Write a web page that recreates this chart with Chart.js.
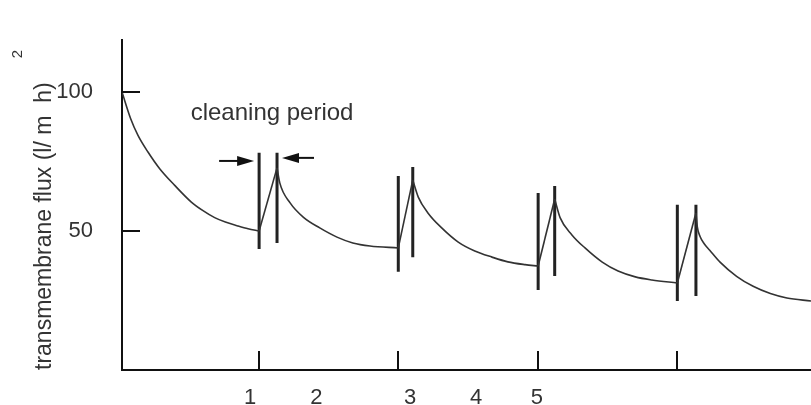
<!DOCTYPE html>
<html>
<head>
<meta charset="utf-8">
<script src="https://cdn.jsdelivr.net/npm/chart.js@4/dist/chart.umd.min.js"></script>
<style>
  html, body { margin: 0; padding: 0; background: #fff; }
  #wrap { width: 811px; height: 405px; }
</style>
</head>
<body>
<div id="wrap"><canvas id="c" width="811" height="405"></canvas></div>
<script>
// ---- data (time in arbitrary units 0..100, flux in l/m2h) ----
const decay1Time = [0, 1.26, 2.32, 3.77, 5.47, 7.65, 10.06, 11.7, 13.45, 15.0, 16.7, 18.3, 19.9];
const decay1Flux = [100, 90.4, 84.4, 78.4, 72.4, 66.4, 60.4, 57.4, 54.8, 53.2, 51.9, 50.8, 50.0];
const decay2Time = [22.5, 22.9, 24.4, 26.3, 28.7, 31.2, 33.5, 36.0, 40.1];
const decay2Flux = [72.7, 67.3, 60.1, 55.0, 51.1, 47.8, 45.7, 44.6, 43.9];
const decay3Time = [42.2, 43.0, 44.4, 46.4, 48.8, 51.2, 53.7, 56.0, 58.5, 60.4];
const decay3Flux = [68.3, 62.2, 56.5, 51.1, 46.0, 42.8, 40.6, 38.9, 37.9, 37.4];
const decay4Time = [62.8, 63.6, 65.3, 67.2, 69.7, 72.0, 74.5, 76.9, 80.6];
const decay4Flux = [61.5, 54.7, 48.6, 43.9, 38.8, 35.6, 33.5, 32.4, 31.3];
const decay5Time = [83.3, 83.5, 83.9, 84.5, 85.3, 86.8, 89.2, 91.6, 94.1, 96.5, 100];
const decay5Flux = [56.5, 51.5, 48.0, 45.4, 43.1, 38.8, 33.7, 30.1, 27.5, 25.9, 24.8];

// cleaning periods: start/end times, vertical marker extents
const cleanStart = [19.9, 40.1, 60.4, 80.6];
const cleanEnd   = [22.5, 42.2, 62.8, 83.3];
const startTop    = [78.1, 69.8, 63.7, 59.4];
const startBottom = [43.5, 35.3, 28.8, 24.8];
const endTop      = [78.1, 73.0, 66.2, 59.4];
const endBottom   = [45.7, 40.6, 33.8, 26.6];

// axis labels
const yTicks = [50, 100];
const xLabelPos = [18.6, 28.2, 41.8, 51.4, 60.2];
const xLabels = ['1', '2', '3', '4', '5'];

// ---- build datasets ----
const CURVE = '#333';
const MARK = '#222';
function pts(xs, ys) { return xs.map((x, i) => ({ x: x, y: ys[i] })); }
const decays = [
  [decay1Time, decay1Flux], [decay2Time, decay2Flux], [decay3Time, decay3Flux],
  [decay4Time, decay4Flux], [decay5Time, decay5Flux]
];
const datasets = [];
decays.forEach(d => datasets.push({
  data: pts(d[0], d[1]), borderColor: CURVE, borderWidth: 1.6,
  pointRadius: 0, fill: false, cubicInterpolationMode: 'monotone'
}));
// rises during cleaning: end of one decay to start of next
for (let i = 0; i < 4; i++) {
  const a = decays[i], b = decays[i + 1];
  datasets.push({
    data: [{ x: a[0][a[0].length - 1], y: a[1][a[1].length - 1] }, { x: b[0][0], y: b[1][0] }],
    borderColor: CURVE, borderWidth: 1.6, pointRadius: 0, fill: false, tension: 0
  });
}
// vertical cleaning markers
for (let i = 0; i < 4; i++) {
  datasets.push({ data: [{ x: cleanStart[i], y: startTop[i] }, { x: cleanStart[i], y: startBottom[i] }],
    borderColor: MARK, borderWidth: 3, pointRadius: 0, fill: false });
  datasets.push({ data: [{ x: cleanEnd[i], y: endTop[i] }, { x: cleanEnd[i], y: endBottom[i] }],
    borderColor: MARK, borderWidth: 3, pointRadius: 0, fill: false });
}

const FONT = 'Liberation Sans, Arial, sans-serif';

const decor = {
  id: 'decor',
  afterDraw(chart) {
    const ctx = chart.ctx, xs = chart.scales.x, ys = chart.scales.y, ca = chart.chartArea;
    ctx.save();
    ctx.strokeStyle = '#111';
    ctx.lineWidth = 2;
    // inward tick marks on y
    yTicks.forEach(v => {
      const y = Math.round(ys.getPixelForValue(v));
      ctx.beginPath(); ctx.moveTo(ca.left, y); ctx.lineTo(ca.left + 18, y); ctx.stroke();
    });
    // upward tick marks on x at cleaning starts
    cleanStart.forEach(v => {
      const x = Math.round(xs.getPixelForValue(v));
      ctx.beginPath(); ctx.moveTo(x, ca.bottom); ctx.lineTo(x, ca.bottom - 19); ctx.stroke();
    });
    // cleaning period text
    ctx.fillStyle = '#333';
    ctx.font = '24px ' + FONT;
    ctx.textAlign = 'center';
    ctx.textBaseline = 'middle';
    const cx = (xs.getPixelForValue(cleanStart[0]) + xs.getPixelForValue(cleanEnd[0])) / 2;
    ctx.fillText('cleaning period', cx + 4, ys.getPixelForValue(92.4));
    // arrows
    ctx.fillStyle = '#111';
    ctx.lineWidth = 2;
    function arrow(tipX, y, dir, len) {
      ctx.beginPath(); ctx.moveTo(tipX - dir * len, y); ctx.lineTo(tipX - dir * 12, y); ctx.stroke();
      ctx.beginPath(); ctx.moveTo(tipX, y); ctx.lineTo(tipX - dir * 17, y - 5);
      ctx.lineTo(tipX - dir * 17, y + 5); ctx.closePath(); ctx.fill();
    }
    arrow(xs.getPixelForValue(cleanStart[0]) - 5, ys.getPixelForValue(75.2), 1, 35);
    arrow(xs.getPixelForValue(cleanEnd[0]) + 5, ys.getPixelForValue(76.3), -1, 32);
    // superscript of the unit
    ctx.save();
    ctx.translate(18, 54);
    ctx.rotate(-Math.PI / 2);
    ctx.fillStyle = '#333';
    ctx.font = '15px ' + FONT;
    ctx.textAlign = 'center';
    ctx.textBaseline = 'middle';
    ctx.fillText('2', 0, 0);
    ctx.restore();
    ctx.restore();
  }
};

new Chart(document.getElementById('c'), {
  type: 'line',
  data: { datasets: datasets },
  plugins: [decor],
  options: {
    responsive: false,
    animation: false,
    events: [],
    layout: { padding: { top: 40, right: 0, left: 0, bottom: 0 } },
    plugins: { legend: { display: false }, tooltip: { enabled: false } },
    scales: {
      x: {
        type: 'linear', min: 0, max: 100,
        grid: { display: true, drawOnChartArea: false, drawTicks: false },
        border: { display: true, color: '#111', width: 2 },
        afterBuildTicks: s => { s.ticks = xLabelPos.map(v => ({ value: v })); },
        afterFit: s => { s.height = 35; s.paddingLeft = 0; s.paddingRight = 0; },
        ticks: {
          autoSkip: false, maxRotation: 0, padding: 15, color: '#333',
          font: { family: FONT, size: 22 },
          callback: (v, i) => xLabels[i]
        }
      },
      y: {
        type: 'linear', min: 0, max: 118.7,
        grid: { display: true, drawOnChartArea: false, drawTicks: false },
        border: { display: true, color: '#111', width: 2 },
        afterBuildTicks: s => { s.ticks = yTicks.map(v => ({ value: v })); },
        afterFit: s => { s.width = 122; s.paddingTop = 0; s.paddingBottom = 0; },
        ticks: { padding: 29, color: '#333', font: { family: FONT, size: 22 } },
        title: {
          display: true, text: 'transmembrane flux (l/ m  h)', align: 'start',
          color: '#333', font: { family: FONT, size: 23 }, padding: { top: 31, bottom: 0 }
        }
      }
    }
  }
});
</script>
</body>
</html>
